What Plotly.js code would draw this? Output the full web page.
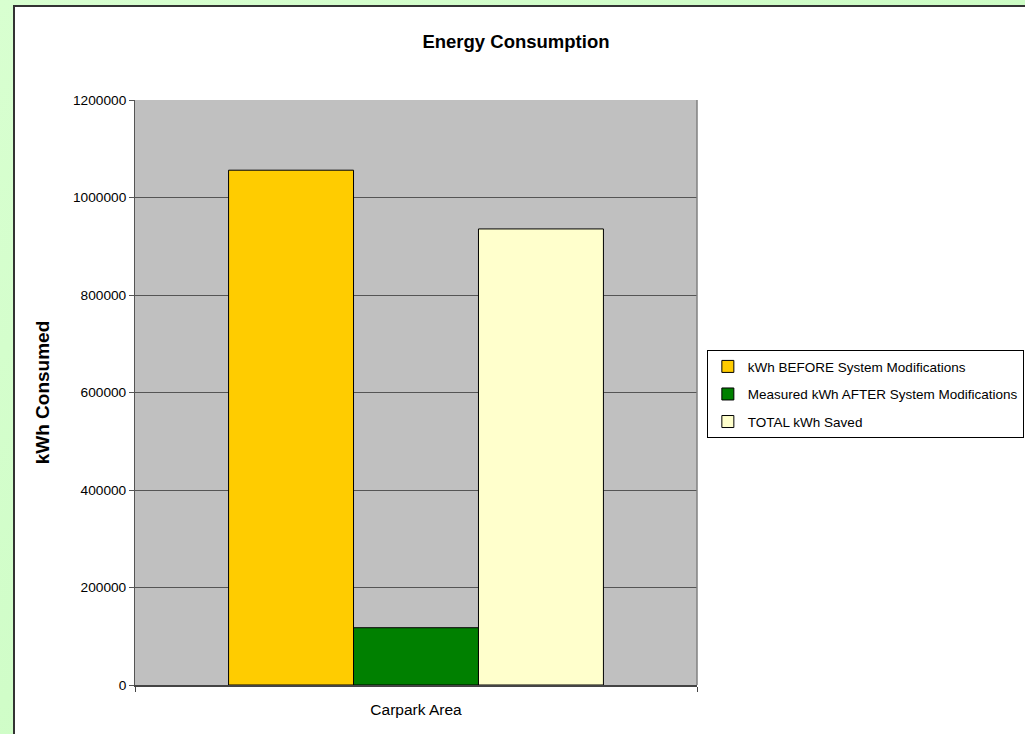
<!DOCTYPE html>
<html>
<head>
<meta charset="utf-8">
<script src="https://cdn.plot.ly/plotly-3.0.1.min.js"></script>
<style>
  html, body { margin: 0; padding: 0; width: 1025px; height: 734px; overflow: hidden; }
  body { background: linear-gradient(135deg, #d8ffd0 0%, #ccfcc4 60%, #c6f6bf 100%); }
  #chart { position: absolute; left: 13px; top: 5px; width: 1010px; height: 727px;
           background: #fff; border-left: 2px solid #333; border-top: 2px solid #333; }
</style>
</head>
<body>
<div id="chart"></div>
<script>
// ---- data ----
const categories = ['Carpark Area'];
const seriesNames = [
  'kWh BEFORE System Modifications',
  'Measured kWh AFTER System Modifications',
  'TOTAL kWh Saved'
];
const kwhBefore = [1056000];
const kwhAfter = [117500];
const kwhSaved = [935500];
const yTickValues = [0, 200000, 400000, 600000, 800000, 1000000, 1200000];
const yTickLabels = ['0', '200000', '400000', '600000', '800000', '1000000', '1200000'];

const colors = ['#FFCC00', '#008000', '#FFFFCC'];
const seriesValues = [kwhBefore, kwhAfter, kwhSaved];

const font = 'Liberation Sans, Arial, sans-serif';

const traces = seriesValues.map((vals, i) => ({
  type: 'bar',
  name: seriesNames[i],
  x: categories,
  y: vals,
  legendgroup: 'g' + i,
  marker: { color: colors[i], line: { color: '#000', width: 1 } },
  hoverinfo: 'skip'
}));

const layout = {
  width: 1010,
  height: 727,
  margin: { l: 120, r: 328, t: 93, b: 49, autoexpand: false },
  paper_bgcolor: '#ffffff',
  plot_bgcolor: '#C0C0C0',
  font: { family: font, size: 13.5, color: '#000' },
  title: {
    text: '<b>Energy Consumption</b>',
    font: { family: font, size: 18.5, color: '#000' },
    xref: 'container', x: 0.496, xanchor: 'center',
    yref: 'container', y: 0.953, yanchor: 'middle'
  },
  barmode: 'group',
  bargap: 0.333,
  bargroupgap: 0,
  showlegend: true,
  legend: {
    xref: 'container', x: 0.685, xanchor: 'left',
    yref: 'container', y: 0.528, yanchor: 'top',
    bgcolor: '#fff', bordercolor: '#000', borderwidth: 1,
    font: { family: font, size: 13.5, color: '#000' },
    tracegroupgap: 7,
    traceorder: 'grouped'
  },
  xaxis: {
    type: 'category',
    tickson: 'boundaries',
    ticks: 'outside', ticklen: 5, tickcolor: '#444', tickwidth: 1,
    showline: true, linecolor: '#444', linewidth: 2,
    showgrid: false, zeroline: false,
    tickfont: { family: font, size: 15.5, color: '#000' },
    ticklabelstandoff: 9,
    fixedrange: true
  },
  yaxis: {
    range: [0, 1200000],
    tickvals: yTickValues,
    ticktext: yTickLabels,
    ticks: 'outside', ticklen: 5, tickcolor: '#555', tickwidth: 1,
    showline: true, linecolor: '#555', linewidth: 1,
    showgrid: true, gridcolor: '#555', gridwidth: 1,
    zeroline: false,
    tickfont: { family: font, size: 13.7, color: '#000' },
    title: { text: '<b>kWh Consumed</b>', font: { family: font, size: 19, color: '#000' }, standoff: 18 },
    fixedrange: true
  },
  shapes: [
    { type: 'line', xref: 'paper', yref: 'paper', x0: 1, x1: 1, y0: 0, y1: 1,
      line: { color: '#808080', width: 1.5 } }
  ]
};

Plotly.newPlot('chart', traces, layout, { displayModeBar: false, staticPlot: true });
</script>
</body>
</html>
